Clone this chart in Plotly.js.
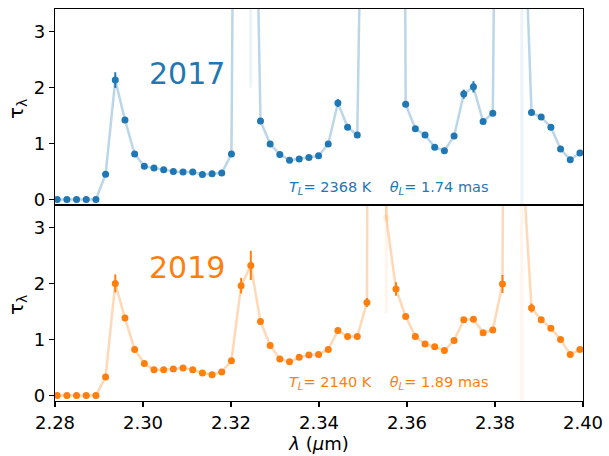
<!DOCTYPE html>
<html>
<head>
<meta charset="utf-8">
<script src="https://cdn.plot.ly/plotly-3.0.1.min.js"></script>
<style>html,body{margin:0;padding:0;background:#fff;}#chart{width:609px;height:456px;}</style>
</head>
<body>
<div id="chart"></div>
<script>
// Wavelength grid (µm)
const wavelength = [2.2805,2.2827,2.2849,2.2871,2.2893,2.2915,2.2937,2.2959,2.2981,2.3003,
  2.3025,2.3047,2.3069,2.3091,2.3113,2.3135,2.3157,2.3179,2.3201,2.3223,
  2.3245,2.3267,2.3289,2.3311,2.3333,2.3355,2.3377,2.3399,2.3421,2.3443,
  2.3465,2.3487,2.3509,2.3531,2.3553,2.3575,2.3597,2.3619,2.3641,2.3663,
  2.3685,2.3707,2.3729,2.3751,2.3773,2.3795,2.3817,2.3839,2.3861,2.3883,
  2.3905,2.3927,2.3949,2.3971,2.3993];

// 2017 optical depth
const tau2017 = [0,0,0,0,0,0.45,2.13,1.42,0.81,0.59,
  0.56,0.53,0.50,0.49,0.49,0.445,0.46,0.47,0.81,25,
  11,1.40,0.99,0.80,0.70,0.72,0.75,0.78,0.99,1.72,
  1.29,1.15,12,30,30,40,1.70,1.26,1.15,0.93,
  0.87,1.13,1.88,2.01,1.39,1.54,20,30,6.4,1.55,
  1.47,1.29,0.90,0.71,0.83];
const err2017 = [0.02,0.02,0.02,0.02,0.02,0.02,0.14,0.03,0.02,0.02,
  0.02,0.02,0.02,0.02,0.02,0.02,0.02,0.02,0.02,0.5,
  9,0.03,0.02,0.02,0.02,0.02,0.02,0.02,0.02,0.07,
  0.03,0.03,0.5,0.5,0.5,0.5,0.05,0.03,0.02,0.02,
  0.02,0.03,0.08,0.10,0.03,0.03,0.5,0.5,8,0.04,
  0.03,0.03,0.02,0.02,0.02];

// 2019 optical depth
const tau2019 = [0,0,0,0,0,0.33,2.00,1.38,0.82,0.57,
  0.46,0.46,0.47,0.49,0.46,0.40,0.37,0.42,0.62,1.96,
  2.32,1.32,0.89,0.65,0.60,0.68,0.72,0.73,0.82,1.16,
  1.05,1.05,1.66,60,3.17,1.90,1.41,1.05,0.92,0.87,
  0.80,0.98,1.35,1.36,1.12,1.17,1.99,40,4.4,1.56,
  1.35,1.20,1.00,0.73,0.82];
const err2019 = [0.02,0.02,0.02,0.02,0.02,0.02,0.16,0.04,0.02,0.02,
  0.02,0.02,0.02,0.02,0.02,0.02,0.02,0.02,0.03,0.14,
  0.26,0.04,0.03,0.02,0.02,0.02,0.02,0.02,0.02,0.04,
  0.03,0.03,0.08,0.5,1.7,0.12,0.04,0.03,0.02,0.02,
  0.02,0.03,0.04,0.04,0.03,0.03,0.16,0.5,6,0.08,
  0.04,0.03,0.03,0.02,0.02];

const xTicks = [2.28,2.30,2.32,2.34,2.36,2.38,2.40];
const yTicks = [0,1,2,3];
const epochLabels = ['2017','2019'];
const fitLabels = ['<i>T</i><sub><i>L</i></sub>= 2368 K    <i>θ</i><sub><i>L</i></sub>= 1.74 mas',
                   '<i>T</i><sub><i>L</i></sub>= 2140 K    <i>θ</i><sub><i>L</i></sub>= 1.89 mas'];

const BLUE = '#1f77b4', ORANGE = '#ff7f0e';
const FONT = 'DejaVu Sans, sans-serif';

function panelTraces(y, err, rgb, color, xa, ya) {
  const good = {x:[],y:[],e:[]}, bad = {x:[],y:[],e:[]};
  for (let i = 0; i < y.length; i++) {
    const t = err[i] > 1 ? bad : good;
    t.x.push(wavelength[i]); t.y.push(y[i]); t.e.push(err[i]);
  }
  return [
    {x: wavelength, y: y, xaxis: xa, yaxis: ya, type: 'scatter', mode: 'lines',
     line: {color: 'rgba(' + rgb + ',0.3)', width: 2.5}, hoverinfo: 'skip'},
    {x: bad.x, y: bad.y, xaxis: xa, yaxis: ya, type: 'scatter', mode: 'markers',
     marker: {color: 'rgba(' + rgb + ',0.1)', size: 7},
     error_y: {type: 'data', array: bad.e, visible: true, color: 'rgba(' + rgb + ',0.08)', thickness: 3, width: 0}},
    {x: good.x, y: good.y, xaxis: xa, yaxis: ya, type: 'scatter', mode: 'markers',
     marker: {color: color, size: 7},
     error_y: {type: 'data', array: good.e, visible: true, color: color, thickness: 2, width: 0}}
  ];
}

const data = [].concat(
  panelTraces(tau2017, err2017, '31,119,180', BLUE, 'x2', 'y2'),
  panelTraces(tau2019, err2019, '255,127,14', ORANGE, 'x', 'y')
);

const axisFont = {family: FONT, size: 18, color: '#000'};
const yCommon = {range: [-0.1, 3.4], tickvals: yTicks, ticktext: yTicks.map(String),
  ticks: 'outside', ticklen: 5, tickwidth: 1.2, tickcolor: '#000',
  showline: true, mirror: true, linecolor: '#000', linewidth: 1.2,
  showgrid: false, zeroline: false, tickfont: axisFont};

const layout = {
  width: 609, height: 456,
  margin: {l: 55, r: 26, t: 9, b: 55},
  paper_bgcolor: '#fff', plot_bgcolor: '#fff',
  showlegend: false,
  font: {family: FONT},
  xaxis: {domain: [0,1], anchor: 'y', range: [2.28, 2.40], tickvals: xTicks,
    ticktext: xTicks.map(v => v.toFixed(2)), ticks: 'outside', ticklen: 5, tickwidth: 1.2, tickcolor: '#000',
    showline: true, mirror: true, linecolor: '#000', linewidth: 1.2, showgrid: false, zeroline: false,
    tickfont: axisFont,
    title: {text: '<i>λ</i> (<i>μ</i>m)', font: {family: FONT, size: 18, color: '#000'}, standoff: 3}},
  xaxis2: {domain: [0,1], anchor: 'y2', matches: 'x', range: [2.28, 2.40], showticklabels: false, ticks: '',
    showline: true, mirror: true, linecolor: '#000', linewidth: 1.2, showgrid: false, zeroline: false},
  yaxis: Object.assign({domain: [0, 0.5], anchor: 'x'}, yCommon),
  yaxis2: Object.assign({domain: [0.5, 1], anchor: 'x2'}, yCommon),
  annotations: [
    {xref: 'x2', yref: 'y2', x: 2.31, y: 2.25, text: epochLabels[0], showarrow: false,
     font: {family: FONT, size: 30, color: BLUE}},
    {xref: 'x', yref: 'y', x: 2.31, y: 2.28, text: epochLabels[1], showarrow: false,
     font: {family: FONT, size: 30, color: ORANGE}},
    {xref: 'x2', yref: 'y2', x: 2.3559, y: 0.21, text: fitLabels[0], showarrow: false,
     font: {family: FONT, size: 14.5, color: BLUE}},
    {xref: 'x', yref: 'y', x: 2.3559, y: 0.22, text: fitLabels[1], showarrow: false,
     font: {family: FONT, size: 14.5, color: ORANGE}},
    {xref: 'paper', yref: 'paper', x: -0.072, y: 0.745, text: 'τ<sub>λ</sub>', showarrow: false,
     textangle: -90, xanchor: 'center', yanchor: 'middle', font: {family: FONT, size: 20, color: '#000'}},
    {xref: 'paper', yref: 'paper', x: -0.072, y: 0.245, text: 'τ<sub>λ</sub>', showarrow: false,
     textangle: -90, xanchor: 'center', yanchor: 'middle', font: {family: FONT, size: 20, color: '#000'}}
  ]
};

Plotly.newPlot('chart', data, layout, {staticPlot: true, displayModeBar: false});
</script>
</body>
</html>
